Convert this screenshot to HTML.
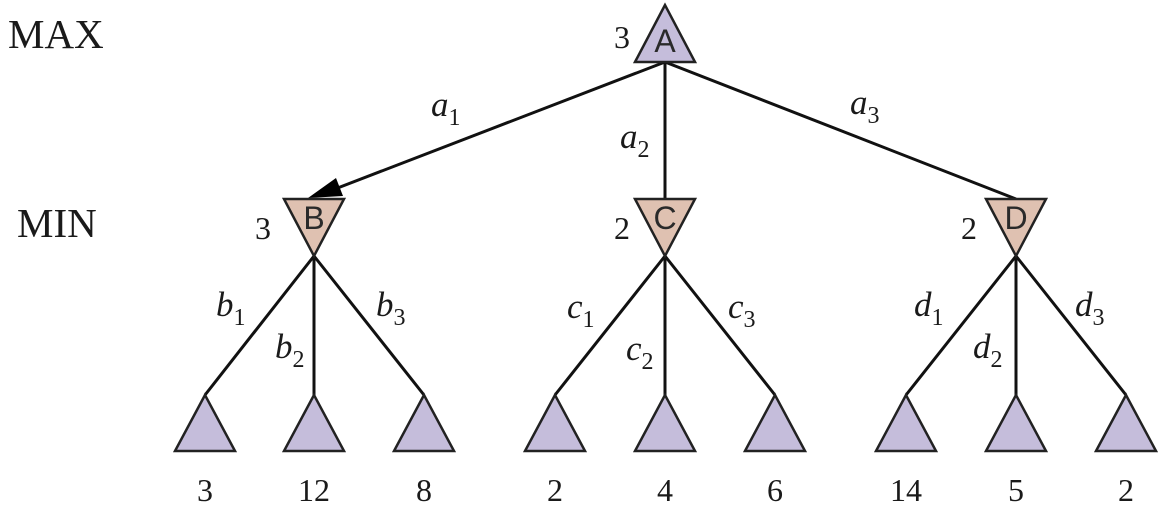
<!DOCTYPE html>
<html><head><meta charset="utf-8"><style>
html,body{margin:0;padding:0;background:#fff;}
svg{display:block;}
.s{font-family:"Liberation Serif",serif;fill:#1a1a1a;}
.i{font-family:"Liberation Serif",serif;font-style:italic;font-size:35px;fill:#1a1a1a;}
.sub{font-style:normal;font-size:24px;}
.n{font-family:"Liberation Sans",sans-serif;font-size:32px;fill:#2a2a2a;text-anchor:middle;}
</style></head><body>
<svg width="1165" height="509" viewBox="0 0 1165 509" xmlns="http://www.w3.org/2000/svg">
<g stroke="#111" stroke-width="3" fill="none">
<line x1="665" y1="62" x2="665" y2="199"/>
<line x1="665" y1="62" x2="1016" y2="199"/>
<line x1="665" y1="62" x2="335" y2="189"/>
<line x1="314" y1="256" x2="205" y2="395"/><line x1="314" y1="256" x2="314" y2="395"/><line x1="314" y1="256" x2="424" y2="395"/>
<line x1="665" y1="256" x2="555" y2="395"/><line x1="665" y1="256" x2="665" y2="395"/><line x1="665" y1="256" x2="775" y2="395"/>
<line x1="1016" y1="256" x2="906" y2="395"/><line x1="1016" y1="256" x2="1016" y2="395"/><line x1="1016" y1="256" x2="1126" y2="395"/>
</g>
<polygon points="308,198 336,178 343,196" fill="#000"/>
<g stroke="#222" stroke-width="2.5" stroke-linejoin="miter">
<polygon points="665,5 635,62 695,62" fill="#c5bddb"/>
<polygon points="284,199 344,199 314,256" fill="#dfc1b1"/>
<polygon points="635,199 695,199 665,256" fill="#dfc1b1"/>
<polygon points="986,199 1046,199 1016,256" fill="#dfc1b1"/>
<g fill="#c5bddb">
<polygon points="205,395 175,451 235,451"/><polygon points="314,395 284,451 344,451"/><polygon points="424,395 394,451 454,451"/>
<polygon points="555,395 525,451 585,451"/><polygon points="665,395 635,451 695,451"/><polygon points="775,395 745,451 805,451"/>
<polygon points="906,395 876,451 936,451"/><polygon points="1016,395 986,451 1046,451"/><polygon points="1126,395 1096,451 1156,451"/>
</g>
</g>
<text class="n" x="665" y="52">A</text>
<text class="n" x="314" y="229">B</text>
<text class="n" x="665" y="229">C</text>
<text class="n" x="1016" y="229">D</text>
<g class="s" font-size="41">
<text x="8" y="48">MAX</text>
<text x="17" y="237">MIN</text>
</g>
<g class="s" font-size="32" text-anchor="middle">
<text x="622" y="48">3</text>
<text x="263" y="239">3</text>
<text x="622" y="239">2</text>
<text x="969" y="239">2</text>
<text x="205" y="501">3</text><text x="314" y="501">12</text><text x="424" y="501">8</text>
<text x="555" y="501">2</text><text x="665" y="501">4</text><text x="775" y="501">6</text>
<text x="906" y="501">14</text><text x="1016" y="501">5</text><text x="1126" y="501">2</text>
</g>
<g class="i">
<text x="431" y="116">a<tspan class="sub" dy="9">1</tspan></text>
<text x="620" y="148">a<tspan class="sub" dy="9">2</tspan></text>
<text x="850" y="114">a<tspan class="sub" dy="9">3</tspan></text>
<text x="216" y="316">b<tspan class="sub" dy="9">1</tspan></text>
<text x="275" y="358">b<tspan class="sub" dy="9">2</tspan></text>
<text x="376" y="316">b<tspan class="sub" dy="9">3</tspan></text>
<text x="567" y="318">c<tspan class="sub" dy="9">1</tspan></text>
<text x="626" y="360">c<tspan class="sub" dy="9">2</tspan></text>
<text x="728" y="318">c<tspan class="sub" dy="9">3</tspan></text>
<text x="914" y="316">d<tspan class="sub" dy="9">1</tspan></text>
<text x="973" y="358">d<tspan class="sub" dy="9">2</tspan></text>
<text x="1075" y="316">d<tspan class="sub" dy="9">3</tspan></text>
</g>
</svg>
</body></html>
